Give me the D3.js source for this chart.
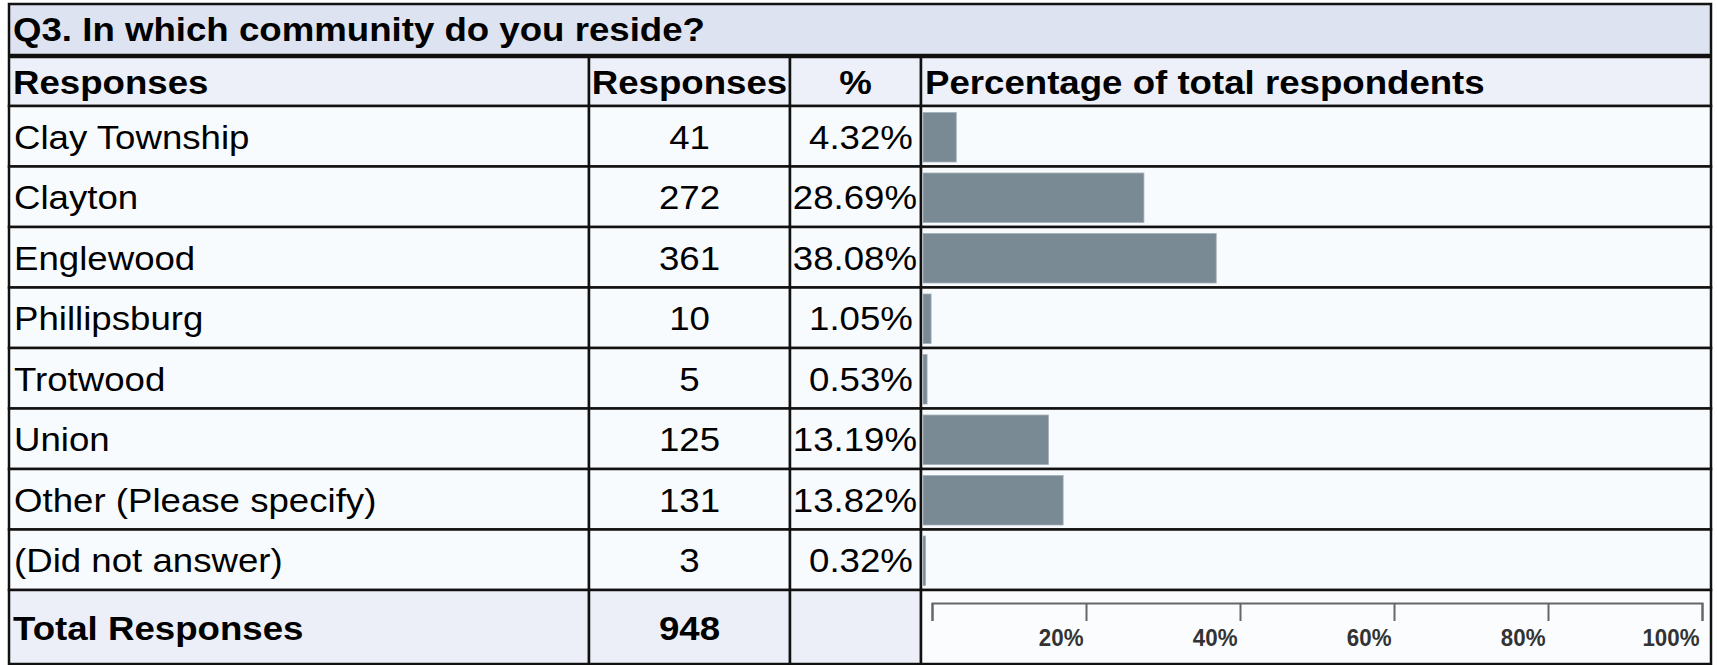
<!DOCTYPE html>
<html>
<head>
<meta charset="utf-8">
<script src="https://cdn.jsdelivr.net/npm/d3@7/dist/d3.min.js"></script>
<style>
  body { margin: 0; background: #fff; }
  text { font-family: "Liberation Sans", Arial, sans-serif; fill: #000; }
</style>
</head>
<body>
<div id="chart"></div>
<script>
const title = 'Q3. In which community do you reside?';
const headers = ['Responses', 'Responses', '%', 'Percentage of total respondents'];
const categories = ['Clay Township', 'Clayton', 'Englewood', 'Phillipsburg', 'Trotwood', 'Union', 'Other (Please specify)', '(Did not answer)'];
const counts = [41, 272, 361, 10, 5, 125, 131, 3];
const percents = [4.32, 28.69, 38.08, 1.05, 0.53, 13.19, 13.82, 0.32];
// bar lengths as drawn in the picture (Union and Other are drawn longer than their %)
const barLengths = [4.32, 28.69, 38.08, 1.05, 0.53, 16.3, 18.2, 0.32];
const totalLabel = 'Total Responses';
const totalCount = 948;
const tickValues = [0, 20, 40, 60, 80, 100];

const W = 1717, H = 665;
const cols = [9, 589, 790, 921, 1711];
const stretch = 1.11;
const border = '#111';

const svg = d3.select('#chart').append('svg')
	.attr('width', W)
	.attr('height', H);

const rows = d3.scaleBand().domain(categories).range([106, 590]);
const x = d3.scaleLinear().domain([0, 100]).range([923, 1693]);

const label = (g, txt, tx, ty, anchor, bold) =>
	g.append('text')
		.attr('transform', 'translate(' + tx + ',' + ty + ') scale(' + stretch + ',1)')
		.attr('text-anchor', anchor || 'start')
		.attr('font-size', 33)
		.attr('font-weight', bold ? 'bold' : 'normal')
		.text(txt);

const cell = (x0, x1, y0, y1, fill) =>
	svg.append('rect')
		.attr('x', x0).attr('y', y0)
		.attr('width', x1 - x0).attr('height', y1 - y0)
		.attr('fill', fill)
		.attr('stroke', border)
		.attr('stroke-width', 2.5);

// title row
cell(cols[0], cols[4], 4, 55, '#dde3f0');
label(svg, title, 13, 41, 'start', true);

// header row
for (let i = 0; i < 4; i++) cell(cols[i], cols[i + 1], 57, 106, '#edf0f8');
label(svg, headers[0], 13, 94, 'start', true);
label(svg, headers[1], (cols[1] + cols[2]) / 2, 94, 'middle', true);
label(svg, headers[2], (cols[2] + cols[3]) / 2, 94, 'middle', true);
label(svg, headers[3], 925, 94, 'start', true);

// data rows
const data = categories.map((c, i) => ({ name: c, count: counts[i], pct: percents[i], bar: barLengths[i] }));

data.forEach(d => {
	const y0 = rows(d.name), y1 = y0 + rows.bandwidth();
	for (let i = 0; i < 4; i++) cell(cols[i], cols[i + 1], y0, y1, '#f8fbfd');
});

const rowG = svg.append('g')
	.selectAll('g')
	.data(data)
	.enter()
	.append('g');

rowG.each(function (d) {
	const g = d3.select(this);
	const cy = rows(d.name) + rows.bandwidth() / 2 + 12.5;
	label(g, d.name, 14, cy, 'start', false);
	label(g, d.count, (cols[1] + cols[2]) / 2, cy, 'middle', false);
	const t = label(g, d.pct.toFixed(2) + '%', 861, cy, 'middle', false);
	const w = t.node().getComputedTextLength() * stretch;
	if (861 + w / 2 > cols[3] - 4) {
		t.attr('transform', 'translate(' + (cols[3] - 4 - w / 2) + ',' + cy + ') scale(' + stretch + ',1)');
	}
});

svg.append('g')
	.selectAll('rect')
	.data(data)
	.enter()
	.append('rect')
	.attr('x', x(0))
	.attr('y', d => rows(d.name) + 6.5)
	.attr('width', d => x(d.bar) - x(0))
	.attr('height', rows.bandwidth() - 11)
	.attr('fill', '#7a8a95')
	.attr('stroke', '#a4b0b8')
	.attr('stroke-width', 0.8);

// total row
cell(cols[0], cols[1], 590, 664, '#eceff7');
cell(cols[1], cols[2], 590, 664, '#eceff7');
cell(cols[2], cols[3], 590, 664, '#eceff7');
cell(cols[3], cols[4], 590, 664, '#fafcfe');
label(svg, totalLabel, 13, 640, 'start', true);
label(svg, totalCount, (cols[1] + cols[2]) / 2, 640, 'middle', true);

const axis = svg.append('g')
	.attr('transform', 'translate(9,603)')
	.call(d3.axisBottom(x)
		.tickValues(tickValues)
		.tickSize(18)
		.tickSizeOuter(18)
		.tickFormat(d => d ? d + '%' : ''));

axis.select('.domain').attr('stroke', '#666').attr('stroke-width', 2);
axis.selectAll('.tick line').attr('stroke', '#666').attr('stroke-width', 2);
axis.selectAll('.tick text')
	.attr('text-anchor', 'end')
	.attr('y', 0)
	.attr('dy', 0)
	.attr('transform', 'translate(-3,43) scale(0.93,1)')
	.attr('font-size', 24)
	.attr('font-weight', 'bold')
	.style('fill', '#333');
</script>
</body>
</html>
